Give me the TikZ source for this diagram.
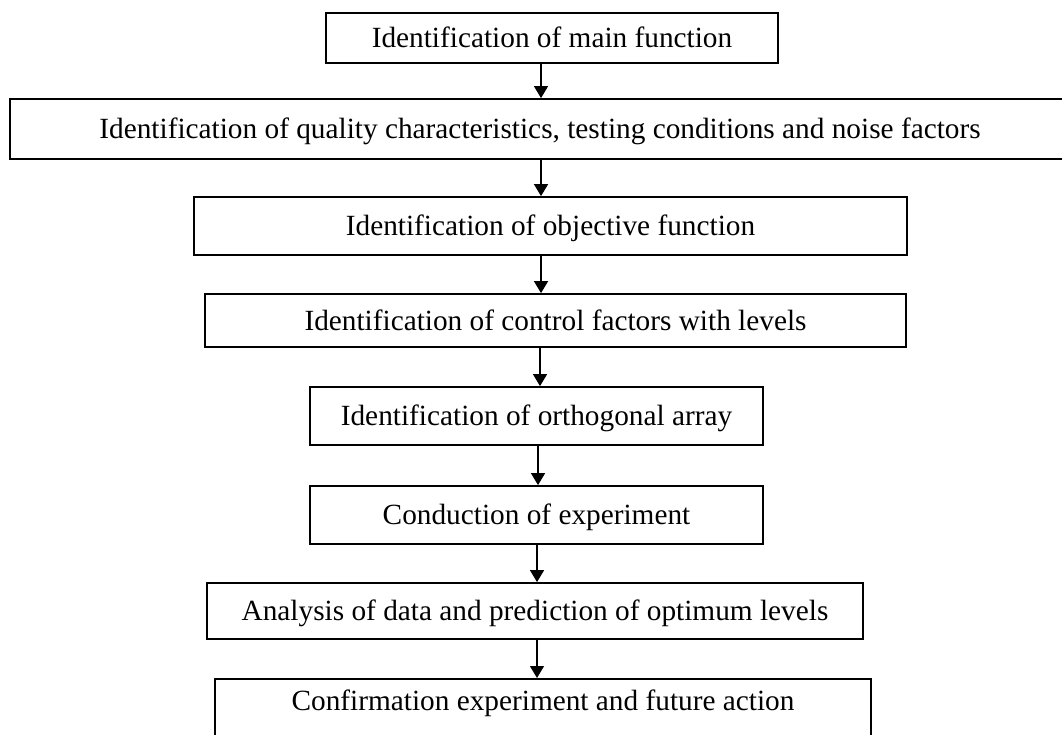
\documentclass[tikz,border=0pt]{standalone}
\usepackage{fontspec}
\setmainfont{Liberation Serif}
\usetikzlibrary{arrows.meta}
\begin{document}
\begin{tikzpicture}[x=1pt,y=-1pt,
  stepbox/.style={draw, line width=1.8pt, inner sep=0pt,
    text height=19.4pt, text depth=0pt,
    font=\fontsize{29.3}{35}\selectfont},
  flow/.style={line width=1.4pt, -{Triangle[length=12pt,width=14pt]}}]
\clip (0,0) rectangle (1062,734);

% process steps
\node[stepbox, minimum width=452pt, minimum height=50pt] (b1) at (552,38)
  {Identification of main function};
\node[stepbox, minimum width=1060pt, minimum height=60pt] (b2) at (540,129)
  {Identification of quality characteristics, testing conditions and noise factors};
\node[stepbox, minimum width=713pt, minimum height=58pt] (b3) at (550.5,226)
  {Identification of objective function};
\node[stepbox, minimum width=701pt, minimum height=53pt] (b4) at (555.5,320.5)
  {Identification of control factors with levels};
\node[stepbox, minimum width=453pt, minimum height=58pt] (b5) at (536.5,416)
  {Identification of orthogonal array};
\node[stepbox, minimum width=453pt, minimum height=58pt] (b6) at (536.5,515)
  {Conduction of experiment};
\node[stepbox, minimum width=656pt, minimum height=56pt] (b7) at (535,611)
  {Analysis of data and prediction of optimum levels};
\node[stepbox, minimum width=656pt, inner ysep=12pt, text depth=30pt, anchor=north] (b8) at (543,678)
  {Confirmation experiment and future action};

% arrow columns
\coordinate (c1) at (541,0);
\coordinate (c2) at (540,0);
\coordinate (c3) at (538,0);
\coordinate (c4) at (537,0);

\draw[flow] (b1.south -| c1) -- (b2.north -| c1);
\draw[flow] (b2.south -| c1) -- (b3.north -| c1);
\draw[flow] (b3.south -| c1) -- (b4.north -| c1);
\draw[flow] (b4.south -| c2) -- (b5.north -| c2);
\draw[flow] (b5.south -| c3) -- (b6.north -| c3);
\draw[flow] (b6.south -| c4) -- (b7.north -| c4);
\draw[flow] (b7.south -| c4) -- (b8.north -| c4);
\end{tikzpicture}
\end{document}
